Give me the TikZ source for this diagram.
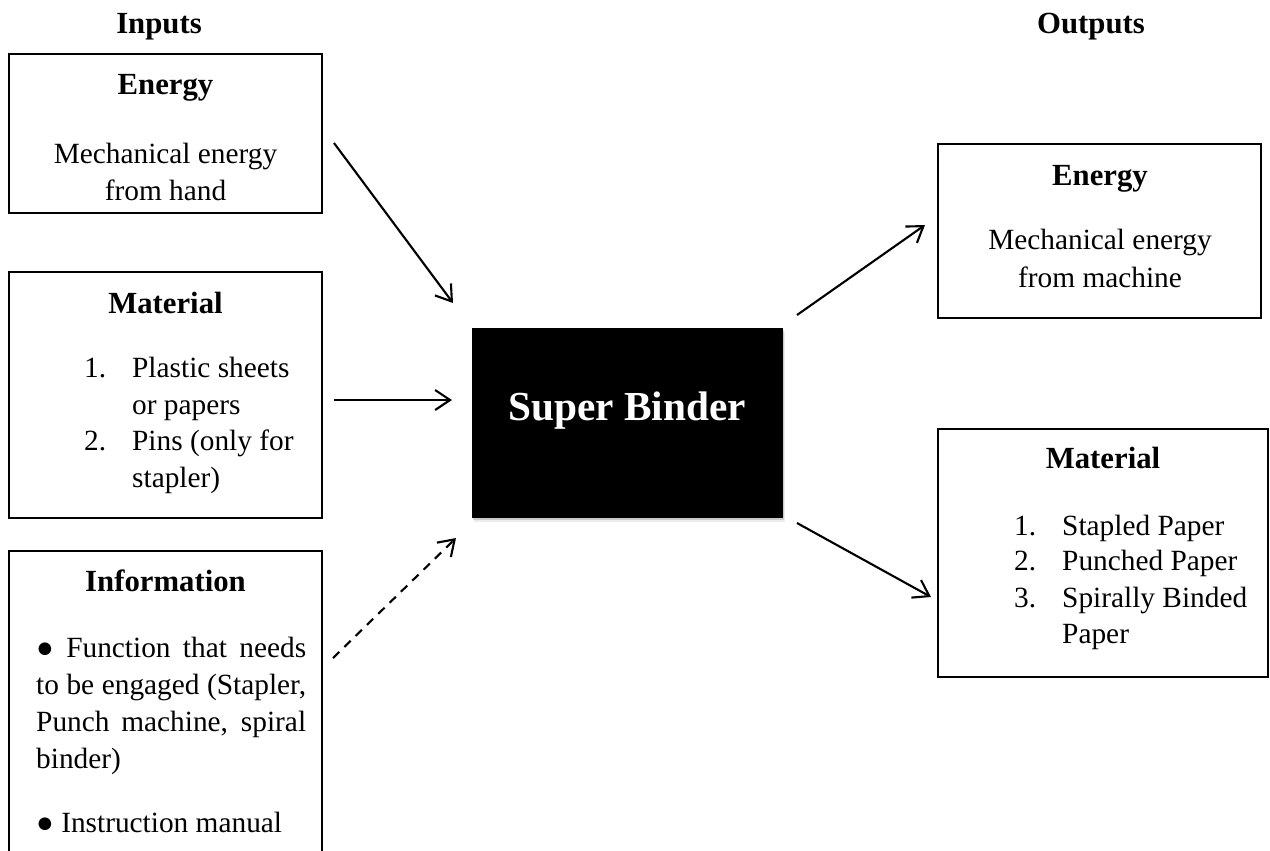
\documentclass[tikz,border=0pt]{standalone}
\usepackage{fontspec}
\setmainfont{Liberation Serif}
\usetikzlibrary{arrows.meta,shadows}
\tikzset{
  >={Straight Barb[length=3mm,width=4mm]},
  box/.style={draw=black,line width=1.1pt,inner sep=0pt},
  solid box/.style={fill=black,inner sep=0pt,
    drop shadow={shadow xshift=1.2pt,shadow yshift=-2.2pt,opacity=0.15},
    drop shadow={shadow xshift=0.6pt,shadow yshift=-1.2pt,opacity=0.3}},
  head/.style={anchor=base,font=\fontsize{17.5}{21}\selectfont\bfseries},
  tag/.style={anchor=base,font=\fontsize{16.7}{21}\selectfont},
  item/.style={tag,anchor=base west},
  flow/.style={->,line width=1.2pt},
}

\begin{document}
\begin{tikzpicture}[x=0.02cm,y=-0.02cm]
    \useasboundingbox (0,0) rectangle (1270,850);
    \clip (0,0) rectangle (1270,850);
    % column titles
    \node[head] (inT) at (159,33) {Inputs};
    \node[head] (outT) at (1091,33) {Outputs};
    % inputs
    \node[box,minimum width=6.26cm,minimum height=3.18cm] (inE) at (165.5,133.5) {};
    \node[head] (inEh) at (165.5,94) {Energy};
    \node[tag] (inE1) at (165.5,163) {Mechanical energy};
    \node[tag] (inE2) at (165.5,200) {from hand};
    \node[box,minimum width=6.26cm,minimum height=4.92cm] (inM) at (165.5,395) {};
    \node[head] (inMh) at (165.5,313) {Material};
    \foreach \n/\t/\y [count=\i] in {1./Plastic sheets/377,/or papers/414,2./Pins (only for/450,/stapler)/487}
      \node[item] (inM\i) at (78,\y) {\makebox[0.96cm][l]{\n}\t};
    \node[box,minimum width=6.26cm,minimum height=6.98cm] (inI) at (165.5,725.5) {};
    \node[head] (inIh) at (165.5,591) {Information};
    \node[item] (inI1) at (30,657) {\makebox[5.4cm][s]{● Function that needs}};
    \node[item] (inI2) at (30,694) {\makebox[5.4cm][s]{to be engaged (Stapler,}};
    \node[item] (inI3) at (30,731) {\makebox[5.4cm][s]{Punch machine, spiral}};
    \node[item] (inI4) at (30,768) {binder)};
    \node[item] (inI5) at (30,832) {● Instruction manual};
    % the machine
    \node[solid box,minimum width=6.22cm,minimum height=3.8cm] (sb) at (627.5,423) {};
    \node[anchor=base,text=white,font=\fontsize{23.5}{28}\selectfont\bfseries] (sbt) at (627,420) {Super Binder};
    % outputs
    \node[box,minimum width=6.46cm,minimum height=3.48cm] (outE) at (1099.5,231) {};
    \node[head] (outEh) at (1100,185) {Energy};
    \node[tag] (outE1) at (1100,249) {Mechanical energy};
    \node[tag] (outE2) at (1100,287) {from machine};
    \node[box,minimum width=6.6cm,minimum height=4.96cm] (outM) at (1103,553) {};
    \node[head] (outMh) at (1103,468) {Material};
    \foreach \n/\t/\y [count=\i] in {1./Stapled Paper/535,2./Punched Paper/570,3./Spirally Binded/607,/Paper/643}
      \node[item] (outM\i) at (1008,\y) {\makebox[0.96cm][l]{\n}\t};
    % arrow ends
    \coordinate (a1) at (334,143);  \coordinate (b1) at (453,303);
    \coordinate (a2) at (334,400);  \coordinate (b2) at (452,400);
    \coordinate (a3) at (333,658);  \coordinate (b3) at (456,538);
    \coordinate (a4) at (797,315);  \coordinate (b4) at (925,225);
    \coordinate (a5) at (797,523);  \coordinate (b5) at (931,597);
    \draw[flow] (a1) -- (b1);
    \draw[flow] (a2) -- (b2);
    \draw[flow,dash pattern=on 5pt off 4pt] (a3) -- (b3);
    \draw[flow] (a4) -- (b4);
    \draw[flow] (a5) -- (b5);
\end{tikzpicture}
\end{document}
